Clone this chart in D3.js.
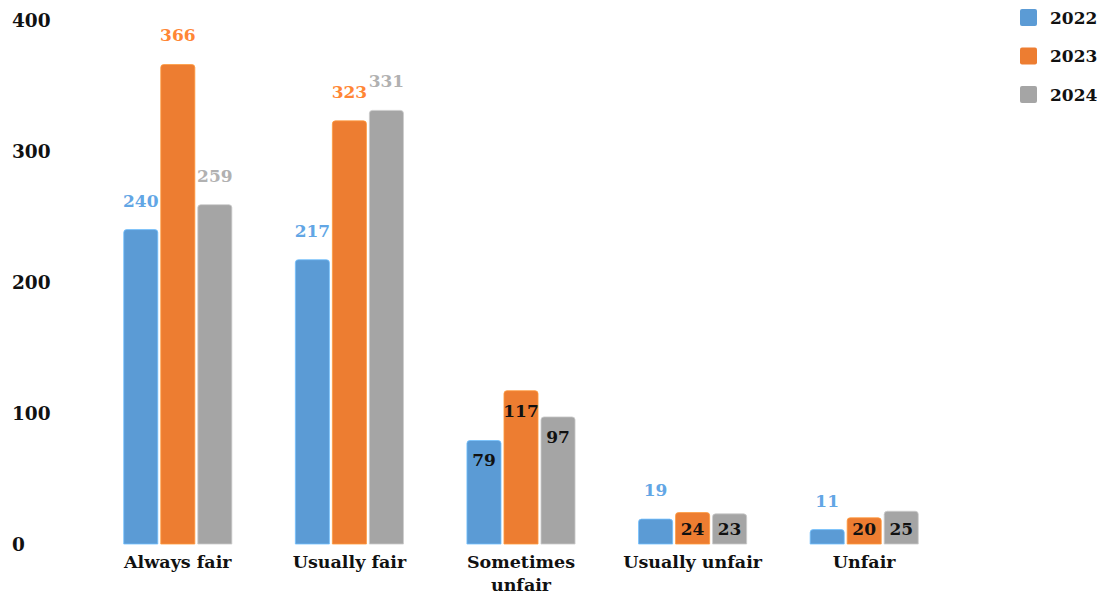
<!DOCTYPE html>
<html>
<head>
<meta charset="utf-8">
<script src="https://cdn.jsdelivr.net/npm/d3@7"></script>
<style>
  body { margin: 0; background: #fff; }
  text { font-family: "DejaVu Serif", Georgia, serif; font-weight: bold; }
</style>
</head>
<body>
<div id="chart"></div>
<script>
// data
var categories = ["Always fair", "Usually fair", "Sometimes unfair", "Usually unfair", "Unfair"];
var years = ["2022", "2023", "2024"];
var values2022 = [240, 217, 79, 19, 11];
var values2023 = [366, 323, 117, 24, 20];
var values2024 = [259, 331, 97, 23, 25];
var yTicks = [0, 100, 200, 300, 400];
var colors = ["#5b9bd5", "#ed7d31", "#a5a5a5"];

var series = [values2022, values2023, values2024];

var width = 1107, height = 596;

var svg = d3.select("#chart").append("svg")
    .attr("width", width)
    .attr("height", height);

// scales
var x0 = d3.scaleBand()
    .domain(categories)
    .range([92, 950])
    .paddingInner(0.37)
    .paddingOuter(0.185);

var x1 = d3.scaleBand()
    .domain(years)
    .range([0, x0.bandwidth()])
    .paddingInner(0.08);

var y = d3.scaleLinear()
    .domain([0, 400])
    .range([544, 20]);

// y axis labels only, no line or grid
var yAxis = svg.append("g")
    .attr("transform", "translate(12,0)")
    .call(d3.axisLeft(y).tickValues(yTicks).tickSize(0).tickPadding(0));
yAxis.select(".domain").remove();
yAxis.selectAll("text")
    .attr("text-anchor", "start")
    .attr("dy", "0.35em")
    .style("font-size", "18.5px")
    .style("fill", "#111");

// bars with rounded tops
function topRounded(x, yTop, w, h, r) {
    r = Math.min(r, h, w / 2);
    return "M" + x + "," + (yTop + h) +
        "V" + (yTop + r) +
        "Q" + x + "," + yTop + " " + (x + r) + "," + yTop +
        "H" + (x + w - r) +
        "Q" + (x + w) + "," + yTop + " " + (x + w) + "," + (yTop + r) +
        "V" + (yTop + h) + "Z";
}

var rows = [];
categories.forEach(function(c, i) {
    years.forEach(function(yr, j) {
        rows.push({cat: c, year: yr, idx: j, value: series[j][i]});
    });
});

var bars = svg.append("g");
bars.selectAll("path")
    .data(rows)
    .enter().append("path")
    .attr("d", function(d) {
        var bx = x0(d.cat) + x1(d.year);
        return topRounded(bx, y(d.value), x1.bandwidth(), y(0) - y(d.value), 3);
    })
    .attr("fill", function(d) { return colors[d.idx]; })
    .attr("stroke", function(d) { return d3.color(colors[d.idx]).brighter(0.6); })
    .attr("stroke-width", 0.8);

// value labels: above the bar for tall or tiny bars, inside for the rest
function inside(d) { return d.value >= 20 && d.value < 150; }

svg.append("g").selectAll("text")
    .data(rows)
    .enter().append("text")
    .attr("x", function(d) { return x0(d.cat) + x1(d.year) + x1.bandwidth() / 2; })
    .attr("y", function(d) {
        if (inside(d)) return Math.min(y(d.value) + 20, 529);
        return y(d.value) - 29;
    })
    .attr("dy", "0.35em")
    .attr("text-anchor", "middle")
    .style("font-size", "17px")
    .style("fill", function(d) {
        if (inside(d)) return "#111";
        return d3.color(colors[d.idx]).brighter(0.2);
    })
    .text(function(d) { return d.value; });

// category labels
var catLines = {
    "Always fair": ["Always fair"],
    "Usually fair": ["Usually fair"],
    "Sometimes unfair": ["Sometimes", "unfair"],
    "Usually unfair": ["Usually unfair"],
    "Unfair": ["Unfair"]
};

var catG = svg.append("g").selectAll("text")
    .data(categories)
    .enter().append("text")
    .attr("x", function(d) { return x0(d) + x0.bandwidth() / 2; })
    .attr("y", 568)
    .attr("text-anchor", "middle")
    .style("font-size", "17.5px")
    .style("fill", "#111");

catG.selectAll("tspan")
    .data(function(d) { return catLines[d]; })
    .enter().append("tspan")
    .attr("x", function() { return d3.select(this.parentNode).attr("x"); })
    .attr("dy", function(d, i) { return i === 0 ? 0 : 23; })
    .text(function(d) { return d; });

// legend
var legend = svg.append("g")
    .attr("transform", "translate(1020,9)");

var items = legend.selectAll("g")
    .data(years)
    .enter().append("g")
    .attr("transform", function(d, i) { return "translate(0," + (i * 38.5) + ")"; });

items.append("rect")
    .attr("width", 17)
    .attr("height", 17)
    .attr("rx", 2)
    .attr("fill", function(d, i) { return colors[i]; });

items.append("text")
    .attr("x", 30)
    .attr("y", 9)
    .attr("dy", "0.35em")
    .style("font-size", "17px")
    .style("fill", "#111")
    .text(function(d) { return d; });
</script>
</body>
</html>
